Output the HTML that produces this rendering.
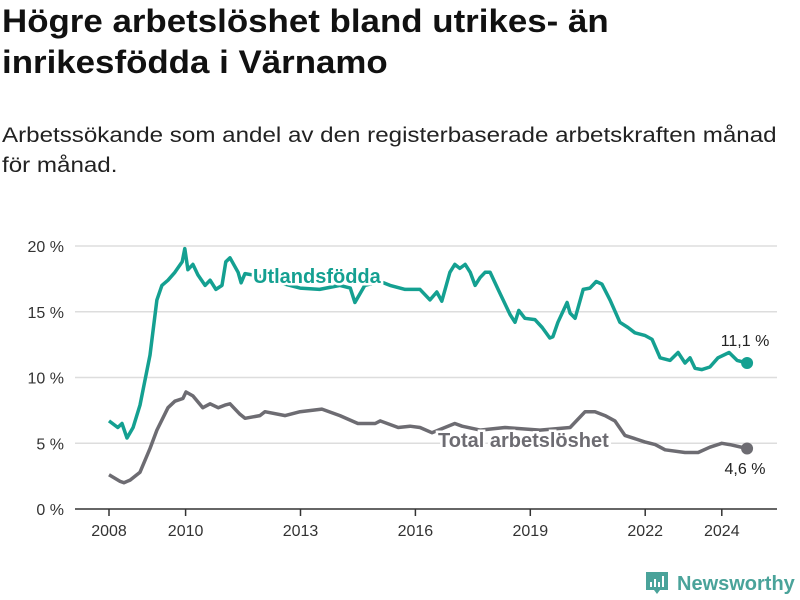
<!DOCTYPE html>
<html><head><meta charset="utf-8">
<style>
body{margin:0;width:800px;height:600px;background:#fff;font-family:"Liberation Sans",sans-serif;overflow:hidden;position:relative}
#title{position:absolute;left:2px;top:1px;font-size:32px;font-weight:bold;line-height:41px;color:#111;margin:0;width:700px;transform:scaleX(1.09);transform-origin:0 0;white-space:nowrap}
#sub{position:absolute;left:2px;top:121px;font-size:21px;line-height:30px;color:#222;width:700px;transform:scaleX(1.15);transform-origin:0 0;white-space:nowrap}
svg{position:absolute;left:0;top:0}
</style></head><body>
<h1 id="title">Högre arbetslöshet bland utrikes- än<br>inrikesfödda i Värnamo</h1>
<div id="sub">Arbetssökande som andel av den registerbaserade arbetskraften månad<br>för månad.</div>
<svg id="chart" width="800" height="600"></svg>
<script>
const yTicks=[0,5,10,15,20];
const xTicks=[2008,2010,2013,2016,2019,2022,2024];
const foreignDates=[2008.0,2008.23,2008.34,2008.47,2008.63,2008.81,2008.94,2009.07,2009.25,2009.38,2009.54,2009.72,2009.91,2009.98,2010.06,2010.19,2010.32,2010.51,2010.64,2010.79,2010.95,2011.05,2011.16,2011.37,2011.45,2011.55,2011.94,2012.46,2012.99,2013.5,2014.03,2014.3,2014.42,2014.68,2015.08,2015.34,2015.73,2016.12,2016.38,2016.56,2016.69,2016.9,2017.03,2017.16,2017.3,2017.43,2017.56,2017.69,2017.82,2017.95,2018.16,2018.47,2018.6,2018.7,2018.86,2019.12,2019.31,2019.51,2019.59,2019.72,2019.96,2020.04,2020.17,2020.38,2020.56,2020.72,2020.87,2021.08,2021.34,2021.55,2021.73,2021.99,2022.18,2022.39,2022.65,2022.86,2023.04,2023.17,2023.3,2023.48,2023.69,2023.9,2024.19,2024.4,2024.66];
const foreignValues=[6.7,6.2,6.5,5.4,6.2,7.9,9.8,11.7,15.9,17.0,17.4,18.0,18.8,19.8,18.2,18.6,17.8,17.0,17.4,16.7,17.0,18.8,19.1,18.0,17.2,17.9,17.7,17.2,16.8,16.7,17.0,16.8,15.7,17.0,17.3,17.0,16.7,16.7,15.9,16.5,15.8,18.0,18.6,18.3,18.6,18.0,17.0,17.6,18.0,18.0,16.7,14.8,14.2,15.1,14.5,14.4,13.8,13.0,13.1,14.2,15.7,14.9,14.5,16.7,16.8,17.3,17.1,15.9,14.2,13.8,13.4,13.2,12.9,11.5,11.3,11.9,11.1,11.5,10.7,10.6,10.8,11.5,11.9,11.3,11.1];
const totalDates=[2008.0,2008.29,2008.39,2008.55,2008.81,2009.07,2009.25,2009.54,2009.72,2009.93,2010.01,2010.19,2010.45,2010.64,2010.85,2011.03,2011.16,2011.42,2011.55,2011.94,2012.07,2012.6,2012.99,2013.56,2014.03,2014.5,2014.95,2015.08,2015.55,2015.86,2016.12,2016.43,2016.77,2017.03,2017.22,2017.69,2018.34,2019.25,2020.04,2020.43,2020.69,2020.95,2021.21,2021.47,2021.99,2022.26,2022.52,2023.04,2023.38,2023.69,2024.0,2024.21,2024.66];
const totalValues=[2.6,2.1,2.0,2.2,2.8,4.6,6.0,7.7,8.2,8.4,8.9,8.6,7.7,8.0,7.7,7.9,8.0,7.2,6.9,7.1,7.4,7.1,7.4,7.6,7.1,6.5,6.5,6.7,6.2,6.3,6.2,5.8,6.2,6.5,6.3,6.0,6.2,6.0,6.2,7.4,7.4,7.1,6.7,5.6,5.1,4.9,4.5,4.3,4.3,4.7,5.0,4.9,4.6];
const X=d=>109+(d-2008)*38.3;
const Y=v=>509-v*13.15;
const svg=document.getElementById('chart');
const NS='http://www.w3.org/2000/svg';
function mk(t,a,p){const e=document.createElementNS(NS,t);for(const k in a)e.setAttribute(k,a[k]);(p||svg).appendChild(e);return e;}
yTicks.forEach(t=>{
 const g=mk('line',{x1:75,x2:777,y1:Y(t),y2:Y(t),stroke:t===0?'#333':'#ddd','stroke-width':1.5});
 
 
 const l=mk('text',{x:64,y:Y(t)+6,'text-anchor':'end','font-size':16,fill:'#333','font-family':'Liberation Sans, sans-serif'});
 l.textContent=t+' %';
 
 
});
xTicks.forEach(t=>{
 const tk=mk('line',{x1:X(t),x2:X(t),y1:509,y2:516,stroke:'#333','stroke-width':1.5});
 
 
 const l=mk('text',{x:X(t),y:536,'text-anchor':'middle','font-size':16,fill:'#333','font-family':'Liberation Sans, sans-serif'});
 l.textContent=t;
 
 
});
function path(ds,vs){return ds.map((d,i)=>(i?'L':'M')+X(d).toFixed(1)+','+Y(vs[i]).toFixed(1)).join('');}
const tl=mk('path',{d:path(totalDates,totalValues),fill:'none',stroke:'#6d6c72','stroke-width':3.5,'stroke-linejoin':'round'});


const fl=mk('path',{d:path(foreignDates,foreignValues),fill:'none',stroke:'#14a091','stroke-width':3.5,'stroke-linejoin':'round'});


const n=foreignDates.length-1,m=totalDates.length-1;
const fd=mk('circle',{cx:X(foreignDates[n]),cy:Y(foreignValues[n]),r:6,fill:'#14a091'});


const td=mk('circle',{cx:X(totalDates[m]),cy:Y(totalValues[m]),r:6,fill:'#6d6c72'});


function lab(x,y,txt,col,name,anchor,size,bold){
 const t=mk('text',{x:x,y:y,'text-anchor':anchor||'start','font-size':size,'font-weight':bold?'bold':'normal',fill:col,'font-family':'Liberation Sans, sans-serif',stroke:'#fff','stroke-width':bold?5:0,'paint-order':'stroke'});
 t.textContent=txt;
 
 
}
lab(253,283,'Utlandsfödda','#14a091','foreign-born-label','start',20,true);
lab(438,447,'Total arbetslöshet','#6d6c72','total-label','start',20,true);
lab(745,346,'11,1 %','#222','foreign-born-end-value','middle',16);
lab(745,474,'4,6 %','#222','total-end-value','middle',16);
const logo=mk('g',{});


mk('path',{d:'M646,572h22v18h-8l-3,4l-3,-4h-8z',fill:'#4aa39a'},logo);
mk('rect',{x:650,y:582,width:2,height:5,fill:'#fff'},logo);
mk('rect',{x:654,y:579,width:2,height:8,fill:'#fff'},logo);
mk('rect',{x:658,y:582,width:2,height:5,fill:'#fff'},logo);
mk('rect',{x:662,y:576,width:2,height:11,fill:'#fff'},logo);
const lt=mk('text',{x:677,y:590,'font-size':20,'font-weight':'bold',fill:'#4aa39a','font-family':'Liberation Sans, sans-serif'},logo);
lt.textContent='Newsworthy';
</script>
</body></html>
